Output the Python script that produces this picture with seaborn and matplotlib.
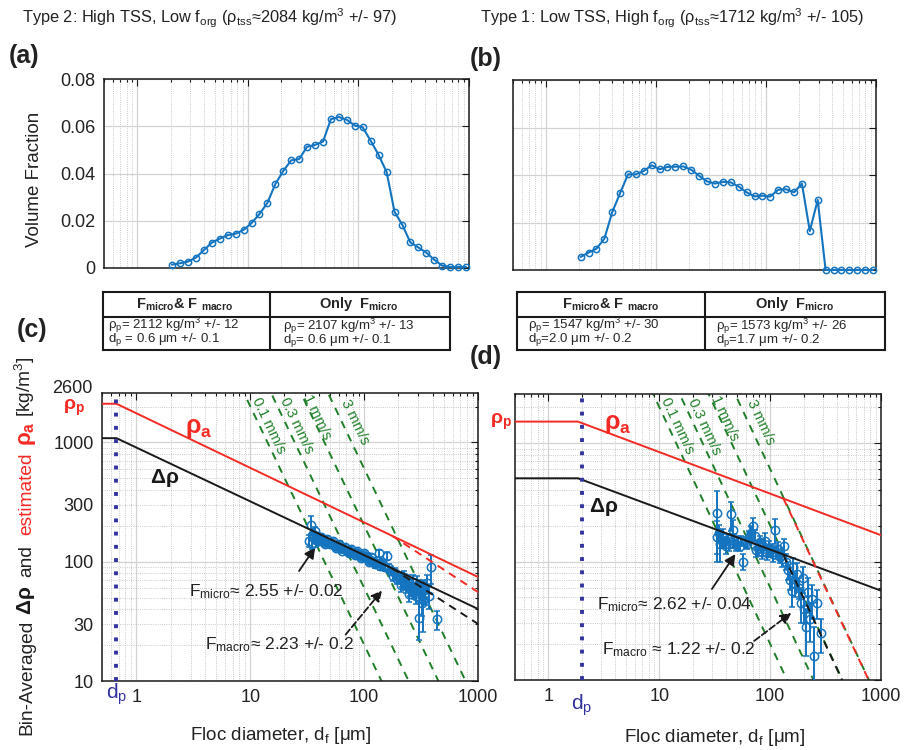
import matplotlib
matplotlib.use("Agg")
import numpy as np
import matplotlib.pyplot as plt
import seaborn as sns
from matplotlib.ticker import (LogLocator, FixedLocator, FuncFormatter,
                               NullFormatter, MultipleLocator)

# particle size bins (um) and volume fractions (panels a, b)
size_bins = [2.06, 2.43, 2.87, 3.39, 3.99, 4.71, 5.56, 6.56, 7.74, 9.14,
             10.8, 12.7, 15.0, 17.7, 20.9, 24.7, 29.1, 34.3, 40.5, 47.8,
             56.4, 66.6, 78.6, 92.7, 109, 129, 152, 180, 212, 250,
             295, 348, 411, 485, 572, 676, 797, 940]
vf_type2 = [0.0014, 0.0020, 0.0027, 0.0044, 0.0075, 0.0107, 0.0124, 0.0139, 0.0145, 0.0161,
            0.0190, 0.0228, 0.0275, 0.0355, 0.0411, 0.0456, 0.0461, 0.0513, 0.0521, 0.0535,
            0.0630, 0.0639, 0.0627, 0.0603, 0.0596, 0.0539, 0.0479, 0.0406, 0.0238, 0.0182,
            0.0108, 0.0087, 0.0065, 0.0035, 0.0010, 0.0004, 0.0004, 0.0004]
vf_type1 = [0.0055, 0.0073, 0.0090, 0.0132, 0.0243, 0.0324, 0.0403, 0.0403, 0.0417, 0.0441,
            0.0424, 0.0434, 0.0435, 0.0436, 0.0422, 0.0396, 0.0373, 0.0364, 0.0371, 0.0369,
            0.0351, 0.0327, 0.0310, 0.0313, 0.0309, 0.0338, 0.0340, 0.0327, 0.0364, 0.0164,
            0.0295, 0, 0, 0, 0, 0, 0, 0]

# bin-averaged delta rho, type 2 (panel c)
c_df = [33.0, 34.5, 35.5, 36.5, 37.5, 38.5, 40.0, 41.5, 43.0, 44.5,
        46.0, 48.0, 50.0, 52.0, 54.0, 56.0, 58.5, 61.0, 63.5, 66.0,
        69.0, 72.0, 75.0, 78.0, 81.5, 85.0, 88.5, 92.0, 96.0, 100,
        104, 108, 113, 118, 123, 128, 134, 140, 146, 152,
        158, 165, 172, 180, 188, 196, 205, 214, 223, 233,
        243, 254, 265, 277, 289, 302, 315, 329, 343, 358,
        374, 390, 440,
        35, 37, 39, 42, 45, 47, 53, 57, 60, 64,
        68, 73, 77, 83, 87, 94, 99, 106, 111, 116,
        125, 137, 143, 210, 225, 248, 270, 285, 305, 320]
c_drho = [150, 205, 172, 160, 152, 165, 158, 150, 155, 148,
          145, 146, 142, 140, 139, 136, 135, 131, 130, 128,
          126, 124, 122, 121, 119, 118, 116, 114, 112, 111,
          108, 106, 104, 102, 100, 98, 118, 96, 93, 90,
          112, 88, 84, 76, 80, 72, 74, 70, 66, 63,
          67, 60, 62, 57, 64, 34, 58, 48, 55, 66,
          52, 90, 33,
          140, 182, 150, 162, 140, 155, 148, 130, 142, 124,
          134, 118, 128, 113, 123, 108, 118, 112, 100, 110,
          95, 92, 100, 64, 74, 54, 68, 52, 60, 45]
c_err = [18, 35, 15, 10, 20, 10, 10, 8, 8, 8,
         8, 8, 7, 7, 7, 7, 7, 6, 6, 6,
         6, 6, 6, 6, 6, 6, 6, 6, 6, 6,
         6, 6, 6, 6, 6, 6, 8, 6, 6, 6,
         8, 7, 7, 7, 8, 7, 8, 8, 8, 8,
         10, 8, 10, 8, 12, 12, 10, 22, 12, 12,
         12, 25, 6,
         12, 15, 10, 10, 8, 8, 8, 7, 7, 6,
         7, 6, 7, 6, 6, 6, 6, 6, 6, 6,
         6, 6, 6, 8, 10, 8, 10, 8, 10, 10]

# bin-averaged delta rho, type 1 (panel d)
d_df = [33.0, 33.5, 34.5, 35.5, 36.5, 37.5, 38.5, 40.0, 41.5, 43.0,
        44.5, 46.0, 47.5, 49.0, 51.0, 53.0, 55.0, 57.5, 60.0, 62.5,
        65.0, 67.5, 70.0, 72.5, 75.0, 78.0, 81.0, 84.0, 87.0, 90.0,
        94.0, 98.0, 102, 106, 110, 114, 118, 123, 128, 134,
        139, 145, 150, 156, 162, 168, 175, 182, 189, 196,
        204, 212, 221, 230, 240, 250, 262, 290]
d_drho = [255, 160, 175, 140, 150, 165, 145, 135, 155, 140,
          250, 185, 150, 138, 145, 135, 150, 100, 145, 140,
          160, 175, 198, 165, 125, 130, 145, 120, 135, 150,
          118, 130, 125, 115, 185, 120, 128, 110, 105, 135,
          100, 85, 70, 56, 90, 65, 78, 60, 45, 72,
          40, 28, 55, 33, 48, 16, 45, 25]
d_err = [140, 60, 30, 40, 20, 25, 15, 20, 15, 18,
         70, 40, 20, 15, 18, 12, 15, 15, 15, 12,
         20, 25, 35, 20, 15, 18, 20, 15, 18, 25,
         15, 20, 15, 15, 45, 15, 18, 12, 15, 20,
         15, 15, 12, 15, 18, 15, 20, 12, 15, 18,
         10, 12, 18, 12, 15, 12, 12, 8]

# fractal model lines (vertices)
c_line_x = [0.5, 0.67, 1000]
c_rhoa_y = [2112, 2112, 74.5]
c_drho_y = [1087, 1087, 40.2]
c_macro_x = [176, 1000]
c_rhoa_macro_y = [165, 55.7]
c_drho_macro_y = [88, 30.1]
c_dp = 0.67

d_line_x = [0.5, 1.85, 1000]
d_rhoa_y = [1520, 1520, 167]
d_drho_y = [505, 505, 56.8]
d_macro_x = [132, 1000]
d_rhoa_macro_y = [340, 6.0]
d_drho_macro_y = [113, 2.0]
d_dp = 2.0

# Stokes settling velocity reference lines
ws_mm = [0.1, 0.3, 1, 3]
ws_labels = ["0.1 mm/s", "0.3 mm/s", "1 mm/s", "3 mm/s"]
ws_label_x = [14.6, 25.5, 39, 83]
ws_label_y = [1400, 1380, 1630, 1490]
stokes_d = [3, 3000]   # um, end points of each reference line
mu, g = 1.1e-3, 9.81

# tables
tab_left = [r"ρ$_p$= 2112 kg/m$^3$ +/- 12", r"d$_p$ = 0.6 μm +/- 0.1",
            r"ρ$_p$= 2107 kg/m$^3$ +/- 13", r"d$_p$= 0.6 μm +/- 0.1"]
tab_right = [r"ρ$_p$= 1547 kg/m$^3$ +/- 30", r"d$_p$=2.0 μm +/- 0.2",
             r"ρ$_p$= 1573 kg/m$^3$ +/- 26", r"d$_p$=1.7 μm +/- 0.2"]

BLUE = "#1574c0"
RED = "#f42a25"
GREEN = "#1f7f28"
NAVY = "#33339f"
INK = "#222222"

sns.set_theme(style="white")
plt.rcParams["font.family"] = ["Liberation Sans", "DejaVu Sans"]
plt.rcParams["mathtext.fontset"] = "custom"
plt.rcParams["mathtext.rm"] = "Liberation Sans"
plt.rcParams["mathtext.it"] = "Liberation Sans:italic"
plt.rcParams["mathtext.bf"] = "Liberation Sans:bold"
plt.rcParams["mathtext.default"] = "regular"

W, H = 922, 750
fig = plt.figure(figsize=(W / 100, H / 100), dpi=100)


def box(l, t, r, b):
    return [l / W, 1 - b / H, (r - l) / W, (b - t) / H]


ax_a = fig.add_axes(box(104, 79, 469, 268))
ax_b = fig.add_axes(box(513, 80, 876, 270))
ax_c = fig.add_axes(box(102, 393, 478, 681))
ax_d = fig.add_axes(box(515, 394, 881, 680))


def base_style(ax):
    ax.set_xscale("log")
    ax.set_xlim(0.5, 1000)
    ax.xaxis.set_major_locator(LogLocator(base=10, numticks=10))
    ax.xaxis.set_minor_locator(LogLocator(base=10, subs=np.arange(2, 10), numticks=20))
    ax.xaxis.set_minor_formatter(NullFormatter())
    ax.tick_params(which="both", direction="in", top=True, right=True,
                   width=0.8, color="k", labelsize=13, labelcolor=INK)
    ax.tick_params(which="major", length=5, pad=6)
    ax.tick_params(which="minor", length=2.5)
    for s in ax.spines.values():
        s.set_color("k")
        s.set_linewidth(1.1)
    ax.set_axisbelow(True)
    ax.grid(True, which="major", color="#d2d2d2", lw=0.9, ls="-")


# ---- top panels: volume fraction ----
for ax, vf in [(ax_a, vf_type2), (ax_b, vf_type1)]:
    base_style(ax)
    ax.grid(True, which="minor", axis="x", color="#b8b8b8", lw=0.6, ls=":")
    sns.lineplot(x=size_bins, y=vf, ax=ax, color=BLUE, lw=1.5, marker="o",
                 markersize=4.5, markerfacecolor="none", markeredgecolor=BLUE,
                 markeredgewidth=1.1, clip_on=False, zorder=3)
    ax.set_ylim(0, 0.08)
    ax.yaxis.set_major_locator(MultipleLocator(0.02))
    ax.xaxis.set_major_formatter(NullFormatter())
    ax.set_xlabel("")
    ax.set_ylabel("")

ax_a.yaxis.set_major_formatter(FuncFormatter(lambda v, _: "0" if v == 0 else f"{v:.2f}"))
ax_b.yaxis.set_major_formatter(NullFormatter())

# ---- bottom panels: effective density ----
y_minor = [20, 30, 40, 50, 60, 70, 80, 90, 200, 300, 400, 500, 600, 700, 800, 900, 2000]
panels = [
    (ax_c, c_df, c_drho, c_err, c_line_x, c_rhoa_y, c_drho_y, c_macro_x,
     c_rhoa_macro_y, c_drho_macro_y, c_dp),
    (ax_d, d_df, d_drho, d_err, d_line_x, d_rhoa_y, d_drho_y, d_macro_x,
     d_rhoa_macro_y, d_drho_macro_y, d_dp),
]
for (ax, xs, ys, es, lx, ra, dr, mx, ram, drm, dp) in panels:
    base_style(ax)
    ax.grid(True, which="minor", color="#b8b8b8", lw=0.6, ls=":")
    ax.set_yscale("log")
    ax.set_ylim(10, 2600)
    ax.yaxis.set_major_locator(FixedLocator([10, 100, 1000]))
    ax.yaxis.set_minor_locator(FixedLocator(y_minor))
    ax.xaxis.set_major_formatter(FuncFormatter(lambda v, _: f"{v:g}"))

    # Stokes lines
    for w in ws_mm:
        dd = np.array(stokes_d, dtype=float)
        drho_s = 18 * mu * (w * 1e-3) / (g * (dd * 1e-6) ** 2)
        ax.plot(dd, drho_s, color=GREEN, lw=1.4, ls=(0, (4, 3.5)), zorder=2)

    ax.errorbar(xs, ys, yerr=es, fmt="o", ms=6, mfc="none", mec=BLUE, mew=1.1,
                ecolor=BLUE, elinewidth=1.4, capsize=2.2, capthick=1.1, zorder=3)

    sns.lineplot(x=lx, y=ra, ax=ax, color=RED, lw=1.4, zorder=4, sort=False)
    sns.lineplot(x=lx, y=dr, ax=ax, color="k", lw=1.4, zorder=4, sort=False)
    ax.plot(mx, ram, color=RED, lw=1.4, ls=(0, (4, 3)), zorder=4)
    ax.plot(mx, drm, color="k", lw=1.4, ls=(0, (4, 3)), zorder=4)
    ax.axvline(dp, color=NAVY, lw=2.8, ls=(0, (1, 2.4)), zorder=5)
    ax.set_xlabel("")
    ax.set_ylabel("")

ax_c.yaxis.set_major_formatter(FuncFormatter(lambda v, _: f"{v:g}"))
ax_c.yaxis.set_minor_formatter(
    FuncFormatter(lambda v, _: f"{v:g}" if v in (30, 300) else ""))
ax_c.tick_params(which="minor", labelsize=13, pad=6)
# top label of the density axis sits a little above the frame
ax_c.annotate("2600", xy=(0, 1), xycoords="axes fraction", xytext=(-6.5, 3),
              textcoords="offset points", ha="right", va="center", fontsize=13,
              color=INK, annotation_clip=False)
ax_d.yaxis.set_major_formatter(NullFormatter())
ax_d.yaxis.set_minor_formatter(NullFormatter())

# velocity labels
for ax, rot in [(ax_c, -64.4), (ax_d, -65)]:
    for lab, tx, ty in zip(ws_labels, ws_label_x, ws_label_y):
        ax.text(tx, ty, lab, rotation=rot, rotation_mode="anchor", ha="center",
                va="center", color=GREEN, fontsize=10.5, zorder=6)

# curve labels
ax_c.annotate(r"$\mathbf{\rho_p}$", xy=(-0.045, 1960), xycoords=("axes fraction", "data"),
              ha="right", va="center", color=RED, fontsize=14, annotation_clip=False)
ax_d.annotate(r"$\mathbf{\rho_p}$", xy=(-0.008, 1520), xycoords=("axes fraction", "data"),
              ha="right", va="center", color=RED, fontsize=14, annotation_clip=False)
ax_c.text(3.5, 1318, r"$\mathbf{\rho_a}$", color=RED, fontsize=18, ha="center", va="center")
ax_d.text(4.2, 1452, r"$\mathbf{\rho_a}$", color=RED, fontsize=18, ha="center", va="center")
ax_c.text(1.76, 503, r"$\mathbf{\Delta\rho}$", color="k", fontsize=15, ha="center", va="center")
ax_d.text(3.15, 287, r"$\mathbf{\Delta\rho}$", color="k", fontsize=15, ha="center", va="center")
ax_c.annotate(r"d$_p$", xy=(c_dp, -0.045), xycoords=("data", "axes fraction"),
              ha="center", va="center", color=NAVY, fontsize=15, annotation_clip=False)
ax_d.annotate(r"d$_p$", xy=(d_dp, -0.09), xycoords=("data", "axes fraction"),
              ha="center", va="center", color=NAVY, fontsize=15, annotation_clip=False)

# fractal dimension annotations
arrow_solid = dict(arrowstyle="-|>", color="k", lw=1.3, mutation_scale=16)
arrow_dash = dict(arrowstyle="-|>", color="k", lw=1.3, ls="--", mutation_scale=16)
ax_c.text(2.91, 55.7, r"F$_{micro}$≈ 2.55 +/- 0.02", fontsize=12.5, va="center", color=INK)
ax_c.annotate("", xy=(38.4, 138), xytext=(26, 80), arrowprops=arrow_solid)
ax_c.text(4.0, 20.0, r"F$_{macro}$≈ 2.23 +/- 0.2", fontsize=12.5, va="center", color=INK)
ax_c.annotate("", xy=(149, 59.9), xytext=(66.4, 23.5), arrowprops=arrow_dash)
ax_d.text(2.72, 43.3, r"F$_{micro}$≈ 2.62 +/- 0.04", fontsize=12.5, va="center", color=INK)
ax_d.annotate("", xy=(50.2, 121), xytext=(28.9, 56.1), arrowprops=arrow_solid)
ax_d.text(3.02, 18.2, r"F$_{macro}$ ≈ 1.22 +/- 0.2", fontsize=12.5, va="center", color=INK)
ax_d.annotate("", xy=(162.5, 38.1), xytext=(68.6, 20.7), arrowprops=arrow_dash)


# ---- tables ----
def draw_table(rect, head_y, split, head_x, body_x, body_y, texts):
    tax = fig.add_axes(rect)
    tax.set_xlim(0, 1)
    tax.set_ylim(0, 1)
    tax.set_xticks([])
    tax.set_yticks([])
    tax.set_facecolor("white")
    for s in tax.spines.values():
        s.set_color("k")
        s.set_linewidth(1.5)
    tax.axhline(head_y, color="k", lw=1.5)
    tax.axvline(split, color="k", lw=1.5)
    hy = (1 + head_y) / 2
    tax.text(head_x[0], hy, r"F$_{\mathbf{micro}}$& F $_{\mathbf{macro}}$", ha="center",
             va="center", fontsize=10.5, fontweight="bold")
    tax.text(head_x[1], hy, r"Only  F$_{\mathbf{micro}}$", ha="center", va="center",
             fontsize=10.5, fontweight="bold")
    for k in range(2):
        tax.text(body_x[k], body_y[k], texts[2 * k] + "\n" + texts[2 * k + 1],
                 fontsize=9.5, va="bottom", linespacing=0.68)


draw_table(box(103, 292, 450, 350), 0.57, 0.481, (0.236, 0.738), (0.015, 0.52),
           (0.03, 0.01), tab_left)
draw_table(box(517, 292, 885, 350), 0.57, 0.511, (0.255, 0.755), (0.03, 0.54),
           (0.03, 0.01), tab_right)

# ---- titles and panel labels ----
fig.text(22 / W, 1 - 18 / H, r"Type 2: High TSS, Low f$_{org}$ (ρ$_{tss}$≈2084 kg/m$^3$ +/- 97)",
         fontsize=11.8, va="center", color=INK)
fig.text(480 / W, 1 - 18 / H, r"Type 1: Low TSS, High f$_{org}$ (ρ$_{tss}$≈1712 kg/m$^3$ +/- 105)",
         fontsize=11.8, va="center", color=INK)
for lab, px, py in [("(a)", 9, 56), ("(b)", 470, 59), ("(c)", 17, 330), ("(d)", 470, 357)]:
    fig.text(px / W, 1 - py / H, lab, fontsize=18, fontweight="bold", va="center", color=INK)

fig.text(34.5 / W, 1 - 179.5 / H, "Volume Fraction", rotation=90, ha="center", va="center",
         fontsize=13.5, color=INK)
fig.text(281 / W, 1 - 736 / H, r"Floc diameter, d$_f$ [μm]", ha="center", va="center",
         fontsize=13.5, color=INK)
fig.text(715 / W, 1 - 738 / H, r"Floc diameter, d$_f$ [μm]", ha="center", va="center",
         fontsize=13.5, color=INK)

# multi-coloured y label of panel (c), built piece by piece (text, colour, size, gap px)
fig.canvas.draw()
renderer = fig.canvas.get_renderer()
pieces = [("Bin-Averaged", INK, 13.8, 5),
          (r"$\mathbf{\Delta\rho}$", "k", 15, 9),
          ("and", INK, 13.8, 10),
          ("estimated", RED, 13.8, 6),
          (r"$\mathbf{\rho_a}$", RED, 16, 5),
          (r"[kg/m$^3$]", INK, 13.8, 0)]
y_disp = H - 735
for txt, col, fs, gap in pieces:
    t = fig.text(31 / W, y_disp / H, txt, rotation=90, rotation_mode="anchor",
                 ha="left", va="baseline", color=col, fontsize=fs)
    bb = t.get_window_extent(renderer)
    y_disp = bb.y1 + gap

fig.savefig("out.png", dpi=100)
